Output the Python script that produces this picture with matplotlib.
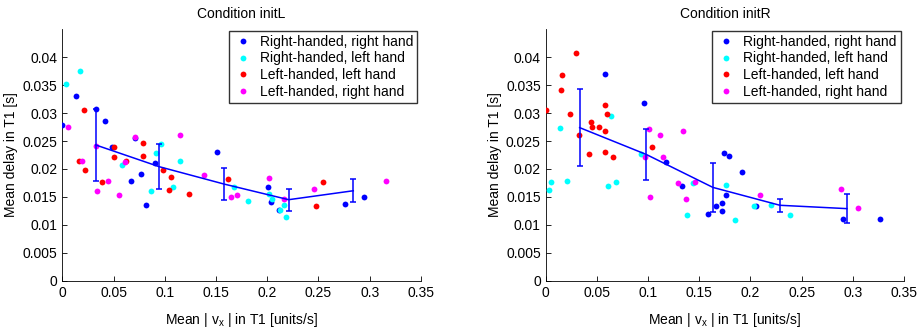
import matplotlib
matplotlib.use("Agg")
import matplotlib.pyplot as plt
import numpy as np

plt.rcParams['font.family'] = ['Liberation Sans', 'DejaVu Sans']
plt.rcParams['mathtext.default'] = 'regular'

# ---------------- data: Condition initL ----------------
L_rr_x = [0.0, 0.0133, 0.0329, 0.042, 0.048, 0.0709, 0.0667, 0.0771, 0.0817, 0.0904, 0.151, 0.2007, 0.2036, 0.2111, 0.2755, 0.2944]
L_rr_y = [0.0278, 0.0330, 0.0307, 0.0286, 0.0239, 0.0255, 0.0178, 0.0191, 0.0136, 0.0210, 0.0230, 0.0167, 0.0140, 0.0126, 0.0137, 0.0150]
L_rl_x = [0.0039, 0.0176, 0.0582, 0.0862, 0.0917, 0.0963, 0.1083, 0.1148, 0.1675, 0.1812, 0.2014, 0.2043, 0.2124, 0.2167, 0.2183]
L_rl_y = [0.0352, 0.0375, 0.0207, 0.0160, 0.0229, 0.0244, 0.0167, 0.0215, 0.0167, 0.0143, 0.0156, 0.0146, 0.0126, 0.0135, 0.0114]
L_ll_x = [0.0208, 0.0166, 0.0224, 0.039, 0.0501, 0.0504, 0.0618, 0.079, 0.079, 0.0979, 0.1041, 0.1061, 0.1239, 0.1617, 0.2476, 0.2544]
L_ll_y = [0.0306, 0.0214, 0.0199, 0.0177, 0.0239, 0.0221, 0.0215, 0.0246, 0.0224, 0.0199, 0.0163, 0.0186, 0.0155, 0.0182, 0.0133, 0.0177]
L_lr_x = [0.0059, 0.0189, 0.0329, 0.0338, 0.0442, 0.0556, 0.0608, 0.0709, 0.1148, 0.1386, 0.1646, 0.1701, 0.2020, 0.2160, 0.2459, 0.3155]
L_lr_y = [0.0275, 0.0214, 0.0241, 0.0161, 0.0179, 0.0154, 0.0213, 0.0258, 0.0260, 0.0189, 0.0149, 0.0154, 0.0184, 0.0146, 0.0165, 0.0179]
L_mean_x = [0.0325, 0.0947, 0.1578, 0.2209, 0.284]
L_mean_y = [0.0243, 0.0204, 0.0173, 0.0145, 0.0161]
L_err = [0.0064, 0.0040, 0.0028, 0.0020, 0.0021]

# ---------------- data: Condition initR ----------------
R_rr_x = [0.0582, 0.0957, 0.1174, 0.1331, 0.1585, 0.166, 0.1721, 0.1718, 0.1737, 0.1786, 0.1763, 0.1919, 0.205, 0.2902, 0.3269]
R_rr_y = [0.0370, 0.0318, 0.0213, 0.0170, 0.0119, 0.0133, 0.0139, 0.0124, 0.0229, 0.0223, 0.0153, 0.0195, 0.0133, 0.0110, 0.0110]
R_rl_x = [0.0036, 0.0052, 0.0137, 0.0211, 0.0608, 0.0634, 0.069, 0.0927, 0.1383, 0.1441, 0.1757, 0.1848, 0.2033, 0.2196, 0.2385]
R_rl_y = [0.0163, 0.0176, 0.0273, 0.0179, 0.0170, 0.0295, 0.0176, 0.0227, 0.0117, 0.0174, 0.0172, 0.0108, 0.0133, 0.0136, 0.0117]
R_ll_x = [0.0003, 0.0146, 0.0163, 0.0241, 0.0296, 0.0322, 0.042, 0.0439, 0.0452, 0.0517, 0.0579, 0.0602, 0.0579, 0.0579, 0.066, 0.1041]
R_ll_y = [0.0306, 0.0342, 0.0368, 0.0298, 0.0407, 0.0261, 0.0227, 0.0284, 0.0276, 0.0276, 0.0315, 0.0299, 0.0268, 0.0230, 0.0222, 0.0239]
R_lr_x = [0.0969, 0.1012, 0.1015, 0.1119, 0.1142, 0.1288, 0.134, 0.1366, 0.146, 0.2092, 0.2886, 0.3048]
R_lr_y = [0.0221, 0.0271, 0.0150, 0.0260, 0.0221, 0.0175, 0.0268, 0.0146, 0.0177, 0.0154, 0.0165, 0.0130]
R_mean_x = [0.0332, 0.0982, 0.1633, 0.2287, 0.2941]
R_mean_y = [0.0274, 0.0226, 0.0167, 0.0135, 0.0129]
R_err = [0.0069, 0.0046, 0.0044, 0.0012, 0.0026]

labels = ['Right-handed, right hand', 'Right-handed, left hand',
          'Left-handed, left hand', 'Left-handed, right hand']
colors = ['#0000ff', '#00ffff', '#ff0000', '#ff00ff']
titles = ['Condition initL', 'Condition initR']
xticks = [0, 0.05, 0.1, 0.15, 0.2, 0.25, 0.3, 0.35]
xticklabels = ['0', '0.05', '0.1', '0.15', '0.2', '0.25', '0.3', '0.35']
yticks = [0, 0.005, 0.01, 0.015, 0.02, 0.025, 0.03, 0.035, 0.04]
yticklabels = ['0', '0.005', '0.01', '0.015', '0.02', '0.025', '0.03', '0.035', '0.04']

fig = plt.figure(figsize=(9.17, 3.28), dpi=100)
positions = [[0.068, 0.1442, 0.391, 0.7665], [0.595, 0.1442, 0.391, 0.7665]]

panels = [
    ([(L_rr_x, L_rr_y), (L_rl_x, L_rl_y), (L_ll_x, L_ll_y), (L_lr_x, L_lr_y)], L_mean_x, L_mean_y, L_err),
    ([(R_rr_x, R_rr_y), (R_rl_x, R_rl_y), (R_ll_x, R_ll_y), (R_lr_x, R_lr_y)], R_mean_x, R_mean_y, R_err),
]

fs = 10
for i, (groups, mx, my, me) in enumerate(panels):
    ax = fig.add_axes(positions[i])
    for (gx, gy), c, lab in zip(groups, colors, labels):
        ax.plot(gx, gy, linestyle='none', marker='o', markersize=4.2,
                markerfacecolor=c, markeredgecolor='none', label=lab, zorder=3)
    ax.errorbar(mx, my, yerr=me, color='#0000ff', linewidth=1.1,
                elinewidth=1.1, capsize=2.5, capthick=1.1, zorder=4)
    ax.set_xlim(0, 0.35)
    ax.set_ylim(0, 0.045)
    ax.set_xticks(xticks)
    ax.set_xticklabels(xticklabels)
    ax.set_yticks(yticks)
    ax.set_yticklabels(yticklabels)
    ax.tick_params(direction='in', length=3.5, width=0.6, labelsize=fs, colors='black')
    for s in ['top', 'right']:
        ax.spines[s].set_visible(False)
    for s in ['left', 'bottom']:
        ax.spines[s].set_linewidth(0.6)
    ax.set_title(titles[i], fontsize=fs, pad=8)
    ax.set_xlabel('Mean | v$_x$ | in T1 [units/s]', fontsize=fs, labelpad=8)
    ax.set_ylabel('Mean delay in T1 [s]', fontsize=fs, labelpad=3)
    leg = ax.legend(loc='upper right', bbox_to_anchor=(0.99, 0.995), fontsize=fs,
                    frameon=True, fancybox=False, borderaxespad=0.0,
                    handletextpad=0.5, handlelength=1.4, labelspacing=0.2,
                    borderpad=0.3, markerscale=1.0)
    leg.get_frame().set_edgecolor('black')
    leg.get_frame().set_linewidth(1.0)

fig.savefig('out.png', dpi=100)
